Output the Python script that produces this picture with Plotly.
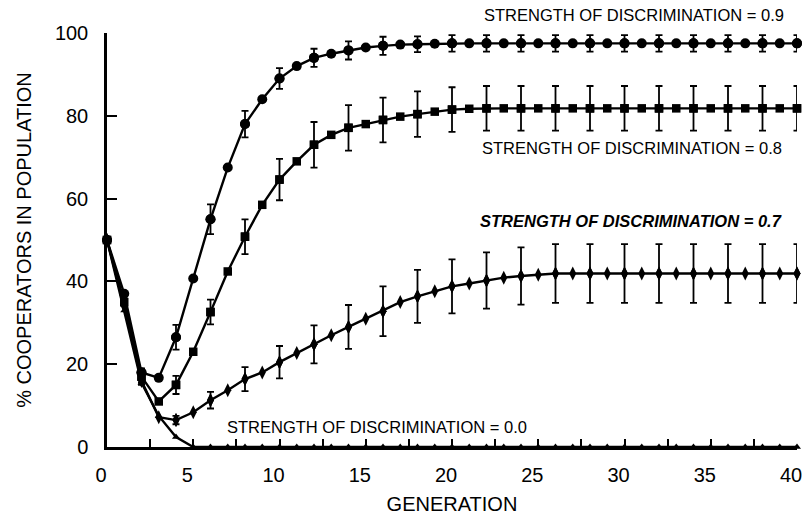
import plotly.graph_objects as go

generations = list(range(0, 41))

coop_09 = [50, 37, 18, 16.7, 26.5, 40.7, 55, 67.5, 78, 84, 89, 92, 94, 95, 95.8, 96.5, 96.9, 97.2, 97.3, 97.4,
           97.5, 97.5, 97.5, 97.5, 97.5, 97.5, 97.5, 97.5, 97.5, 97.5, 97.5, 97.5, 97.5, 97.5, 97.5, 97.5,
           97.5, 97.5, 97.5, 97.5, 97.5]
coop_08 = [50, 35, 17, 11, 15, 23, 32.6, 42.4, 50.8, 58.5, 64.6, 69, 73, 75.4, 77.1, 78, 79, 79.8, 80.4, 81,
           81.5, 81.7, 81.8, 81.8, 81.8, 81.8, 81.8, 81.8, 81.8, 81.8, 81.8, 81.8, 81.8, 81.8, 81.8, 81.8,
           81.8, 81.8, 81.8, 81.8, 81.8]
coop_07 = [50, 34, 16, 7.2, 6.5, 8.4, 11.3, 13.7, 16.4, 18, 20.5, 22.7, 24.8, 27, 29, 31, 32.8, 35, 36.4, 37.6,
           38.8, 39.5, 40.2, 40.9, 41.3, 41.6, 41.9, 41.9, 41.9, 41.9, 41.9, 41.9, 41.9, 41.9, 41.9, 41.9,
           41.9, 41.9, 41.9, 41.9, 41.9]
coop_00 = [50, 33, 15.5, 7.5, 2.4] + [0] * 36

# error bars shown every second generation (0, 2, ..., 40)
err_gens = generations[::2]
err_09 = [0, 1, 3, 3.6, 3.2, 2.5, 2.2, 2.2, 2.2, 1.9, 2, 2, 2, 2, 2, 2, 2, 2, 2, 2, 2]
err_08 = [0, 1.5, 2.2, 3, 4.2, 5, 5.5, 5.5, 5.4, 5.5, 5.4, 5.4, 5.4, 5.4, 5.4, 5.4, 5.4, 5.4, 5.4, 5.4, 5.4]
err_07 = [0, 1, 1, 2, 2.9, 3.9, 4.6, 5.3, 6, 6.4, 6.5, 6.8, 6.9, 7.1, 7.1, 7.1, 7.1, 7.1, 7.1, 7.1, 7.1]

labels = ["STRENGTH OF DISCRIMINATION = 0.9", "STRENGTH OF DISCRIMINATION = 0.8",
          "STRENGTH OF DISCRIMINATION = 0.7", "STRENGTH OF DISCRIMINATION = 0.0"]

x_ticks = [0, 5, 10, 15, 20, 25, 30, 35, 40]
y_ticks = [0, 20, 40, 60, 80, 100]

FONT = "Liberation Sans, Arial, sans-serif"
fig = go.Figure()

series = [
    (coop_09, err_09, dict(symbol="circle", size=10)),
    (coop_08, err_08, dict(symbol="square", size=8.5)),
    (coop_07, err_07, dict(symbol="diamond-tall", size=10)),
    (coop_00, None, dict(symbol="triangle-up", size=7)),
]

for vals, errs, mk in series:
    fig.add_trace(go.Scatter(
        x=generations, y=vals, mode="lines+markers",
        line=dict(color="black", width=2.4),
        marker=dict(color="black", **mk),
        cliponaxis=False, showlegend=False, hoverinfo="skip"))
    if errs is not None:
        fig.add_trace(go.Scatter(
            x=err_gens, y=vals[::2], mode="markers",
            marker=dict(color="black", **mk),
            error_y=dict(type="data", array=errs, visible=True, color="black",
                         thickness=1.8, width=3.5),
            cliponaxis=False, showlegend=False, hoverinfo="skip"))

# label positions: x in generations, y as fraction of plot height
ann_pos = [(30.55, 1.0435, False), (30.46, 0.722, False), (30.4, 0.546, True), (15.65, 0.048, False)]
for text, (ax, ay, bold) in zip(labels, ann_pos):
    t = f"<b><i>{text}</i></b>" if bold else text
    fig.add_annotation(x=ax, y=ay, xref="x", yref="paper", text=t, showarrow=False,
                       xanchor="center", yanchor="middle",
                       font=dict(family=FONT, size=16.5, color="black"))

fig.update_layout(
    width=810, height=520,
    margin=dict(l=107, r=13, t=33, b=73),
    paper_bgcolor="white", plot_bgcolor="white",
    font=dict(family=FONT, color="black"),
)
fig.update_xaxes(
    range=[0, 40], tickvals=x_ticks, ticktext=[str(v) for v in x_ticks],
    automargin=False,
    showgrid=False, zeroline=False, showline=True, linecolor="black", linewidth=2.5,
    ticks="inside", ticklen=8, tickwidth=2, tickcolor="black",
    minor=dict(dtick=2.5, tick0=0, ticks="inside", ticklen=8, tickwidth=2, tickcolor="black"),
    tickfont=dict(family=FONT, size=20, color="black"),
    ticklabelshift=-6, ticklabelstandoff=8,
    title=dict(text="GENERATION", font=dict(family=FONT, size=20, color="black"), standoff=13),
)
fig.update_yaxes(
    range=[0, 100], tickvals=y_ticks, ticktext=[str(v) for v in y_ticks],
    automargin=False,
    showgrid=False, zeroline=False, showline=True, linecolor="black", linewidth=2.5,
    ticks="inside", ticklen=10, tickwidth=2, tickcolor="black",
    tickfont=dict(family=FONT, size=20, color="black"),
    ticklabelstandoff=12,
    title=dict(text="% COOPERATORS IN POPULATION", font=dict(family=FONT, size=20, color="black"), standoff=18),
)

# remove the page's default body margin so the figure fills the 810x520 window
fig.write_html("out.html", config={"displayModeBar": False},
               post_script="document.body.style.margin='0px';")
